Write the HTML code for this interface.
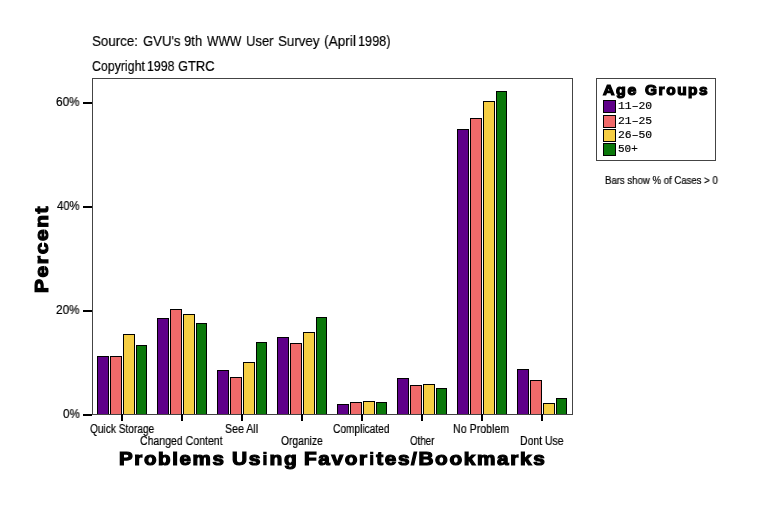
<!DOCTYPE html>
<html><head><meta charset="utf-8"><style>
html,body{margin:0;padding:0;background:#fff;}
body{width:760px;height:506px;position:relative;overflow:hidden;font-family:"Liberation Sans",sans-serif;color:#000;}
.t{position:absolute;white-space:nowrap;transform-origin:0 0;color:#000;will-change:transform;}
svg{position:absolute;left:0;top:0;}
</style></head><body>
<svg width="760" height="506" shape-rendering="crispEdges">
<rect x="92.5" y="78.5" width="480" height="336" fill="none" stroke="#444" stroke-width="1"/>
<rect x="596.5" y="78.5" width="119" height="82" fill="none" stroke="#444" stroke-width="1"/>
<rect x="97" y="356" width="12" height="58" fill="#000"/><rect x="98" y="357" width="10" height="57" fill="#5f0089"/><rect x="110" y="356" width="12" height="58" fill="#000"/><rect x="111" y="357" width="10" height="57" fill="#f06a6a"/><rect x="123" y="334" width="12" height="80" fill="#000"/><rect x="124" y="335" width="10" height="79" fill="#f6ce44"/><rect x="136" y="345" width="11" height="69" fill="#000"/><rect x="137" y="346" width="9" height="68" fill="#0a780a"/><rect x="157" y="318" width="12" height="96" fill="#000"/><rect x="158" y="319" width="10" height="95" fill="#5f0089"/><rect x="170" y="309" width="12" height="105" fill="#000"/><rect x="171" y="310" width="10" height="104" fill="#f06a6a"/><rect x="183" y="314" width="12" height="100" fill="#000"/><rect x="184" y="315" width="10" height="99" fill="#f6ce44"/><rect x="196" y="323" width="11" height="91" fill="#000"/><rect x="197" y="324" width="9" height="90" fill="#0a780a"/><rect x="217" y="370" width="12" height="44" fill="#000"/><rect x="218" y="371" width="10" height="43" fill="#5f0089"/><rect x="230" y="377" width="12" height="37" fill="#000"/><rect x="231" y="378" width="10" height="36" fill="#f06a6a"/><rect x="243" y="362" width="12" height="52" fill="#000"/><rect x="244" y="363" width="10" height="51" fill="#f6ce44"/><rect x="256" y="342" width="11" height="72" fill="#000"/><rect x="257" y="343" width="9" height="71" fill="#0a780a"/><rect x="277" y="337" width="12" height="77" fill="#000"/><rect x="278" y="338" width="10" height="76" fill="#5f0089"/><rect x="290" y="343" width="12" height="71" fill="#000"/><rect x="291" y="344" width="10" height="70" fill="#f06a6a"/><rect x="303" y="332" width="12" height="82" fill="#000"/><rect x="304" y="333" width="10" height="81" fill="#f6ce44"/><rect x="316" y="317" width="11" height="97" fill="#000"/><rect x="317" y="318" width="9" height="96" fill="#0a780a"/><rect x="337" y="404" width="12" height="10" fill="#000"/><rect x="338" y="405" width="10" height="9" fill="#5f0089"/><rect x="350" y="402" width="12" height="12" fill="#000"/><rect x="351" y="403" width="10" height="11" fill="#f06a6a"/><rect x="363" y="401" width="12" height="13" fill="#000"/><rect x="364" y="402" width="10" height="12" fill="#f6ce44"/><rect x="376" y="402" width="11" height="12" fill="#000"/><rect x="377" y="403" width="9" height="11" fill="#0a780a"/><rect x="397" y="378" width="12" height="36" fill="#000"/><rect x="398" y="379" width="10" height="35" fill="#5f0089"/><rect x="410" y="385" width="12" height="29" fill="#000"/><rect x="411" y="386" width="10" height="28" fill="#f06a6a"/><rect x="423" y="384" width="12" height="30" fill="#000"/><rect x="424" y="385" width="10" height="29" fill="#f6ce44"/><rect x="436" y="388" width="11" height="26" fill="#000"/><rect x="437" y="389" width="9" height="25" fill="#0a780a"/><rect x="457" y="129" width="12" height="285" fill="#000"/><rect x="458" y="130" width="10" height="284" fill="#5f0089"/><rect x="470" y="118" width="12" height="296" fill="#000"/><rect x="471" y="119" width="10" height="295" fill="#f06a6a"/><rect x="483" y="101" width="12" height="313" fill="#000"/><rect x="484" y="102" width="10" height="312" fill="#f6ce44"/><rect x="496" y="91" width="11" height="323" fill="#000"/><rect x="497" y="92" width="9" height="322" fill="#0a780a"/><rect x="517" y="369" width="12" height="45" fill="#000"/><rect x="518" y="370" width="10" height="44" fill="#5f0089"/><rect x="530" y="380" width="12" height="34" fill="#000"/><rect x="531" y="381" width="10" height="33" fill="#f06a6a"/><rect x="543" y="403" width="12" height="11" fill="#000"/><rect x="544" y="404" width="10" height="10" fill="#f6ce44"/><rect x="556" y="398" width="11" height="16" fill="#000"/><rect x="557" y="399" width="9" height="15" fill="#0a780a"/>
<rect x="83" y="102" width="9" height="2" fill="#000"/><rect x="83" y="206" width="9" height="2" fill="#000"/><rect x="83" y="310" width="9" height="2" fill="#000"/><rect x="83" y="414" width="9" height="2" fill="#000"/><rect x="121" y="414" width="2" height="7" fill="#000"/><rect x="181" y="414" width="2" height="7" fill="#000"/><rect x="241" y="414" width="2" height="7" fill="#000"/><rect x="301" y="414" width="2" height="7" fill="#000"/><rect x="361" y="414" width="2" height="7" fill="#000"/><rect x="421" y="414" width="2" height="7" fill="#000"/><rect x="481" y="414" width="2" height="7" fill="#000"/><rect x="541" y="414" width="2" height="7" fill="#000"/>
<rect x="603" y="100" width="13" height="13" fill="#000"/><rect x="604" y="101" width="11" height="11" fill="#5f0089"/><rect x="603" y="115" width="13" height="13" fill="#000"/><rect x="604" y="116" width="11" height="11" fill="#f06a6a"/><rect x="603" y="129" width="13" height="13" fill="#000"/><rect x="604" y="130" width="11" height="11" fill="#f6ce44"/><rect x="603" y="143" width="13" height="13" fill="#000"/><rect x="604" y="144" width="11" height="11" fill="#0a780a"/>
</svg>
<div class="t" style="left:92.04px;top:33px;font-weight:normal;font-size:15.5px;font-family:'Liberation Sans',sans-serif;line-height:15.5px;transform:scaleX(0.8608);-webkit-text-stroke:0.2px #000;">Source:</div>
<div class="t" style="left:143.05px;top:33px;font-weight:normal;font-size:15.5px;font-family:'Liberation Sans',sans-serif;line-height:15.5px;transform:scaleX(0.8465);-webkit-text-stroke:0.2px #000;">GVU&#x27;s</div>
<div class="t" style="left:183.66px;top:33px;font-weight:normal;font-size:15.5px;font-family:'Liberation Sans',sans-serif;line-height:15.5px;transform:scaleX(0.8400);-webkit-text-stroke:0.2px #000;">9th</div>
<div class="t" style="left:206.60px;top:33px;font-weight:normal;font-size:15.5px;font-family:'Liberation Sans',sans-serif;line-height:15.5px;transform:scaleX(0.7818);-webkit-text-stroke:0.2px #000;">WWW</div>
<div class="t" style="left:245.96px;top:33px;font-weight:normal;font-size:15.5px;font-family:'Liberation Sans',sans-serif;line-height:15.5px;transform:scaleX(0.8406);-webkit-text-stroke:0.2px #000;">User</div>
<div class="t" style="left:278.14px;top:33px;font-weight:normal;font-size:15.5px;font-family:'Liberation Sans',sans-serif;line-height:15.5px;transform:scaleX(0.8617);-webkit-text-stroke:0.2px #000;">Survey</div>
<div class="t" style="left:323.82px;top:33px;font-weight:normal;font-size:15.5px;font-family:'Liberation Sans',sans-serif;line-height:15.5px;transform:scaleX(0.8824);-webkit-text-stroke:0.2px #000;">(April</div>
<div class="t" style="left:358.18px;top:33px;font-weight:normal;font-size:15.5px;font-family:'Liberation Sans',sans-serif;line-height:15.5px;transform:scaleX(0.8211);-webkit-text-stroke:0.2px #000;">1998)</div>
<div class="t" style="left:91.80px;top:58px;font-weight:normal;font-size:15.5px;font-family:'Liberation Sans',sans-serif;line-height:15.5px;transform:scaleX(0.7969);-webkit-text-stroke:0.2px #000;">Copyright</div>
<div class="t" style="left:147.00px;top:58px;font-weight:normal;font-size:15.5px;font-family:'Liberation Sans',sans-serif;line-height:15.5px;transform:scaleX(0.8000);-webkit-text-stroke:0.2px #000;">1998</div>
<div class="t" style="left:178.17px;top:58px;font-weight:normal;font-size:15.5px;font-family:'Liberation Sans',sans-serif;line-height:15.5px;transform:scaleX(0.8310);-webkit-text-stroke:0.2px #000;">GTRC</div>
<div class="t" style="left:56.02px;top:96px;font-weight:normal;font-size:12px;font-family:'Liberation Sans',sans-serif;line-height:12px;transform:scaleX(0.9783);-webkit-text-stroke:0.2px #000;">60%</div>
<div class="t" style="left:57.00px;top:200px;font-weight:normal;font-size:12px;font-family:'Liberation Sans',sans-serif;line-height:12px;transform:scaleX(0.9375);-webkit-text-stroke:0.2px #000;">40%</div>
<div class="t" style="left:56.02px;top:304px;font-weight:normal;font-size:12px;font-family:'Liberation Sans',sans-serif;line-height:12px;transform:scaleX(0.9783);-webkit-text-stroke:0.2px #000;">20%</div>
<div class="t" style="left:62.80px;top:408px;font-weight:normal;font-size:12px;font-family:'Liberation Sans',sans-serif;line-height:12px;transform:scaleX(0.9647);-webkit-text-stroke:0.2px #000;">0%</div>
<div class="t" style="left:89.80px;top:423px;font-weight:normal;font-size:12px;font-family:'Liberation Sans',sans-serif;line-height:12px;transform:scaleX(0.8447);-webkit-text-stroke:0.2px #000;">Quick Storage</div>
<div class="t" style="left:140.32px;top:435px;font-weight:normal;font-size:12px;font-family:'Liberation Sans',sans-serif;line-height:12px;transform:scaleX(0.8774);-webkit-text-stroke:0.2px #000;">Changed Content</div>
<div class="t" style="left:224.81px;top:423px;font-weight:normal;font-size:12px;font-family:'Liberation Sans',sans-serif;line-height:12px;transform:scaleX(0.8861);-webkit-text-stroke:0.2px #000;">See All</div>
<div class="t" style="left:280.80px;top:435px;font-weight:normal;font-size:12px;font-family:'Liberation Sans',sans-serif;line-height:12px;transform:scaleX(0.8583);-webkit-text-stroke:0.2px #000;">Organize</div>
<div class="t" style="left:333.05px;top:423px;font-weight:normal;font-size:12px;font-family:'Liberation Sans',sans-serif;line-height:12px;transform:scaleX(0.8477);-webkit-text-stroke:0.2px #000;">Complicated</div>
<div class="t" style="left:409.70px;top:435px;font-weight:normal;font-size:12px;font-family:'Liberation Sans',sans-serif;line-height:12px;transform:scaleX(0.8133);-webkit-text-stroke:0.2px #000;">Other</div>
<div class="t" style="left:453.31px;top:423px;font-weight:normal;font-size:12px;font-family:'Liberation Sans',sans-serif;line-height:12px;transform:scaleX(0.8871);-webkit-text-stroke:0.2px #000;">No Problem</div>
<div class="t" style="left:519.63px;top:435px;font-weight:normal;font-size:12px;font-family:'Liberation Sans',sans-serif;line-height:12px;transform:scaleX(0.8714);-webkit-text-stroke:0.2px #000;">Dont Use</div>
<div class="t" style="left:604.84px;top:176px;font-weight:normal;font-size:10px;font-family:'Liberation Sans',sans-serif;line-height:10px;transform:scaleX(0.9595);-webkit-text-stroke:0.2px #000;">Bars show % of Cases &gt; 0</div>
<div class="t" style="left:603.20px;top:83px;font-weight:bold;font-size:14.5px;font-family:'Liberation Sans',sans-serif;line-height:14.5px;transform:scaleX(1.0935);-webkit-text-stroke:1.2px #000;letter-spacing:1.5px;">Age</div>
<div class="t" style="left:645.40px;top:83px;font-weight:bold;font-size:14.5px;font-family:'Liberation Sans',sans-serif;line-height:14.5px;transform:scaleX(1.0610);-webkit-text-stroke:1.2px #000;letter-spacing:1.5px;">Groups</div>
<div class="t" style="left:617.87px;top:101px;font-weight:normal;font-size:11px;font-family:'Liberation Mono',monospace;line-height:11px;transform:scaleX(1.0344);-webkit-text-stroke:0.2px #000;">11–20</div>
<div class="t" style="left:617.87px;top:116px;font-weight:normal;font-size:11px;font-family:'Liberation Mono',monospace;line-height:11px;transform:scaleX(1.0344);-webkit-text-stroke:0.2px #000;">21–25</div>
<div class="t" style="left:617.87px;top:130px;font-weight:normal;font-size:11px;font-family:'Liberation Mono',monospace;line-height:11px;transform:scaleX(1.0344);-webkit-text-stroke:0.2px #000;">26–50</div>
<div class="t" style="left:617.91px;top:144px;font-weight:normal;font-size:11px;font-family:'Liberation Mono',monospace;line-height:11px;transform:scaleX(0.9947);-webkit-text-stroke:0.2px #000;">50+</div>
<div class="t" style="left:119.02px;top:449px;font-weight:bold;font-size:19px;font-family:'Liberation Sans',sans-serif;line-height:19px;transform:scaleX(1.0802);-webkit-text-stroke:1.2px #000;letter-spacing:1.5px;">Problems</div>
<div class="t" style="left:231.90px;top:449px;font-weight:bold;font-size:19px;font-family:'Liberation Sans',sans-serif;line-height:19px;transform:scaleX(1.1018);-webkit-text-stroke:1.2px #000;letter-spacing:1.5px;">Us<span style="-webkit-text-stroke-width:0.4px">i</span>ng</div>
<div class="t" style="left:303.81px;top:449px;font-weight:bold;font-size:19px;font-family:'Liberation Sans',sans-serif;line-height:19px;transform:scaleX(1.0927);-webkit-text-stroke:1.2px #000;letter-spacing:1.5px;">Favor<span style="-webkit-text-stroke-width:0.4px">i</span>tes/Bookmarks</div>
<div class="t" style="left:31.65px;top:292.80px;font-weight:bold;font-size:19px;font-family:'Liberation Sans',sans-serif;line-height:19px;transform:rotate(-90deg) scaleX(1.1000);-webkit-text-stroke:1.2px #000;letter-spacing:1.5px;">Percent</div>
</body></html>
